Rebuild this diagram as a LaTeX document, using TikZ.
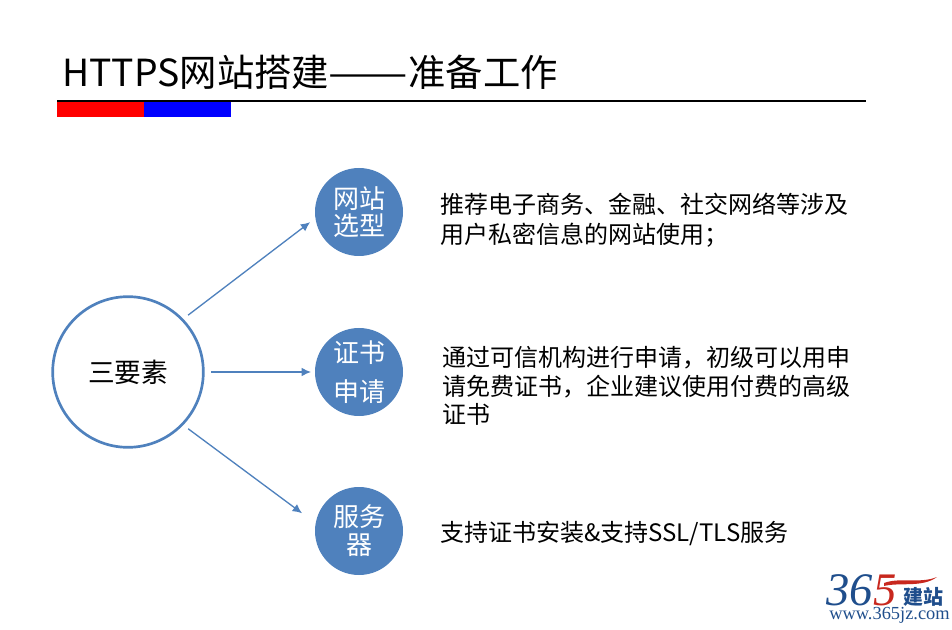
\documentclass[tikz,border=0pt]{standalone}
\usepackage{fontspec}
\usepackage{xcolor}
\usepackage{graphicx}
\setmainfont{Noto Sans CJK SC}
\newfontfamily\logofont{Liberation Serif}
\definecolor{bluefill}{HTML}{4F81BD}
\definecolor{logoblue}{HTML}{1F4E8C}
\definecolor{logored}{HTML}{C8281E}
\tikzset{
  smallcircle/.style={circle, fill=bluefill, draw=none, minimum size=66pt, inner sep=0pt, outer sep=0pt, text=white, align=center},
  maincircle/.style={circle, draw=bluefill, line width=2pt, fill=white, minimum size=113pt, inner sep=0pt, outer sep=0pt, font=\fontsize{20}{24}\selectfont},
  textblock/.style={anchor=west, align=left, inner sep=0pt},
  arrowline/.style={draw=bluefill, line width=1pt, -{Latex[length=7pt,width=6.5pt]}}
}
\usetikzlibrary{arrows.meta}
\begin{document}
\begin{tikzpicture}[x=0.75pt, y=-0.75pt]
      \useasboundingbox (0,0) rectangle (952,630);

      \node[anchor=west, inner sep=0pt, font=\fontsize{28}{32}\selectfont] (title) at (62,72){HTTPS网站搭建\scalebox{1.27}[1]{——}准备工作};
      \draw[black, line width=0.8pt] (57,101) -- (866,101);
      \fill[red] (57,102) rectangle (144,117);
      \fill[blue] (144,102) rectangle (231,117);

      \node[maincircle] (main) at (128,372){三要素};
      \node[smallcircle, font=\fontsize{19.5}{20.25}\selectfont] (site) at (359,212){网站\\选型};
      \node[smallcircle, font=\fontsize{19.5}{29.25}\selectfont] (cert) at (359,372){证书\\申请};
      \node[smallcircle, font=\fontsize{19.5}{21}\selectfont] (server) at (359,531){服务\\器};

      \draw[arrowline, shorten <=5.6pt, shorten >=5pt] (main.44) -- (site.188);
      \draw[arrowline, shorten <=6pt, shorten >=3pt] (main.0) -- (cert.180);
      \draw[arrowline, shorten <=5.6pt, shorten >=12.75pt] (main.-44) -- (server.170);

      \node[textblock, font=\fontsize{18}{22.5}\selectfont] (t1) at (440,220){推荐电子商务、金融、社交网络等涉及\\用户私密信息的网站使用；};
      \node[textblock, font=\fontsize{18}{21.4}\selectfont] (t2) at (442.5,386){通过可信机构进行申请，初级可以用申\\请免费证书，企业建议使用付费的高级\\证书};
      \node[textblock, font=\fontsize{18}{22}\selectfont] (t3) at (440,534){支持证书安装\&支持SSL/TLS服务};

      % logo
      \node[anchor=west, inner sep=0pt, text=logoblue, font=\logofont\itshape\fontsize{35}{35}\selectfont] (logo1) at (826,590){36};
      \node[anchor=west, inner sep=0pt, text=logored, font=\logofont\itshape\fontsize{35}{35}\selectfont] (logo2) at (873,590){5};
      \fill[logored] (884,583) .. controls (900,577) and (920,584) .. (937,577) .. controls (922,588) and (900,582) .. (884,586) -- cycle;
      \node[anchor=west, inner sep=0pt, text=logoblue, font=\bfseries\fontsize{15}{15}\selectfont] (logo3) at (903,597){建站};
      \node[anchor=west, inner sep=0pt, text=logoblue, font=\logofont\fontsize{13.8}{14}\selectfont] (logo4) at (829,615){www.365jz.com};
\end{tikzpicture}
\end{document}
